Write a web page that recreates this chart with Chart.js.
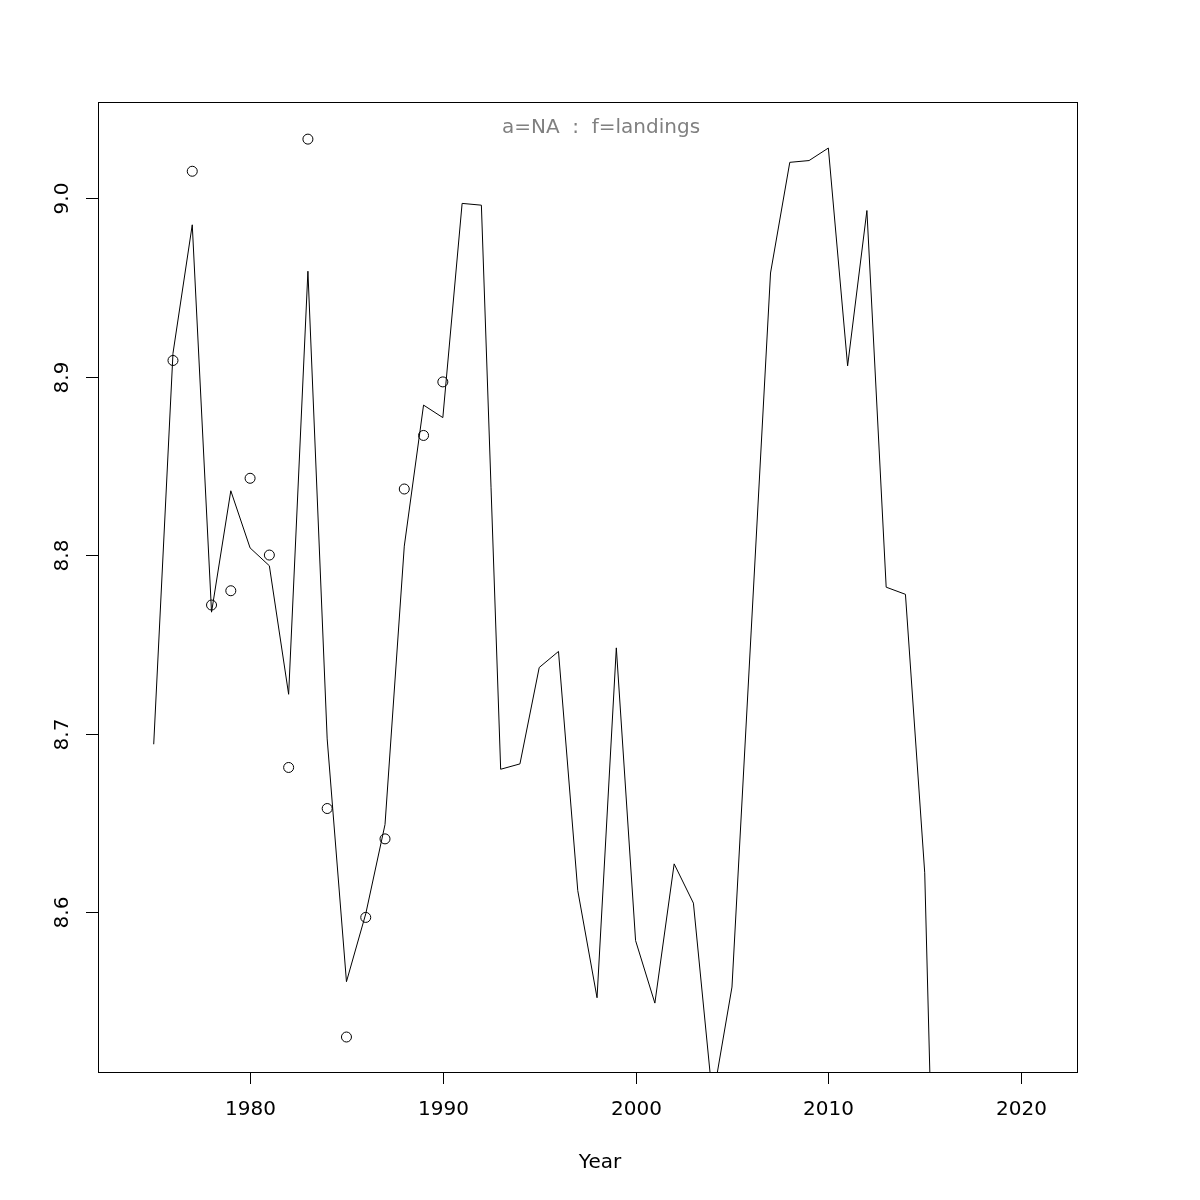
<!DOCTYPE html>
<html>
<head>
<meta charset="utf-8">
<script src="https://cdn.jsdelivr.net/npm/chart.js@4/dist/chart.umd.min.js"></script>
<style>
  body { margin: 0; background: #fff; }
  #wrap { width: 1200px; height: 1200px; position: relative; }
</style>
</head>
<body>
<div id="wrap"><canvas id="plot"></canvas></div>
<script>
// fitted series (line), one value per year
const lineYears = [1975, 1976, 1977, 1978, 1979, 1980, 1981, 1982, 1983, 1984, 1985, 1986, 1987, 1988, 1989, 1990,
    1991, 1992, 1993, 1994, 1995, 1996, 1997, 1998, 1999, 2000, 2001, 2002, 2003, 2004, 2005, 2006, 2007, 2008,
    2009, 2010, 2011, 2012, 2013, 2014, 2015, 2016];
const lineValues = [8.694, 8.913, 8.985, 8.768, 8.836, 8.804, 8.794, 8.722, 8.959, 8.697, 8.561, 8.599, 8.649, 8.805, 8.884, 8.877,
    8.997, 8.996, 8.680, 8.683, 8.737, 8.746, 8.612, 8.552, 8.748, 8.584, 8.549, 8.627, 8.605, 8.495, 8.558, 8.758, 8.958, 9.020,
    9.021, 9.028, 8.906, 8.993, 8.782, 8.778, 8.622, 8.200];

// observed values (circles)
const obsYears = [1976, 1977, 1978, 1979, 1980, 1981, 1982, 1983, 1984, 1985, 1986, 1987, 1988, 1989, 1990];
const obsValues = [8.909, 9.015, 8.772, 8.780, 8.843, 8.800, 8.681, 9.033, 8.658, 8.530, 8.597, 8.641, 8.837, 8.867, 8.897];

const xTicks = [1980, 1990, 2000, 2010, 2020];
const yTicks = [8.6, 8.7, 8.8, 8.9, 9.0];
const yTickLabels = ['8.6', '8.7', '8.8', '8.9', '9.0'];

const xRange = [1972.11, 2022.9];
const yRange = [8.5104, 9.0538];

const FONT = '20px "DejaVu Sans", sans-serif';

// draws the R-style box, axes, tick labels and the title
const rAxes = {
    id: 'rAxes',
    afterDraw(chart) {
        const ctx = chart.ctx;
        const a = chart.chartArea;
        const xs = chart.scales.x, ys = chart.scales.y;
        ctx.save();
        ctx.strokeStyle = '#000';
        ctx.lineWidth = 1;
        ctx.strokeRect(Math.round(a.left) + 0.5, Math.round(a.top) + 0.5,
            Math.round(a.right - a.left), Math.round(a.bottom - a.top));

        ctx.fillStyle = '#000';
        ctx.font = FONT;
        ctx.textAlign = 'center';
        ctx.textBaseline = 'middle';
        ctx.beginPath();
        xTicks.forEach(t => {
            const px = Math.round(xs.getPixelForValue(t)) + 0.5;
            ctx.moveTo(px, a.bottom);
            ctx.lineTo(px, a.bottom + 12);
            ctx.fillText(String(t), px, 1110);
        });
        yTicks.forEach((t, i) => {
            const py = Math.round(ys.getPixelForValue(t)) + 0.5;
            ctx.moveTo(a.left, py);
            ctx.lineTo(a.left - 12, py);
            ctx.save();
            ctx.translate(63, py);
            ctx.rotate(-Math.PI / 2);
            ctx.fillText(yTickLabels[i], 0, 0);
            ctx.restore();
        });
        ctx.stroke();

        ctx.fillText('Year', 600, 1163);

        ctx.fillStyle = '#808080';
        ctx.fillText('a=NA  :  f=landings', 601, 128);
        ctx.restore();
    }
};

new Chart(document.getElementById('plot'), {
    type: 'line',
    data: {
        datasets: [{
            data: lineYears.map((yr, i) => ({ x: yr, y: lineValues[i] })),
            borderColor: '#000',
            borderWidth: 1,
            pointRadius: 0,
            tension: 0,
            fill: false
        }, {
            data: obsYears.map((yr, i) => ({ x: yr, y: obsValues[i] })),
            showLine: false,
            pointRadius: 5,
            pointStyle: 'circle',
            pointBorderColor: '#000',
            pointBorderWidth: 1,
            pointBackgroundColor: 'rgba(0,0,0,0)'
        }]
    },
    options: {
        responsive: true,
        maintainAspectRatio: false,
        animation: false,
        layout: {
            padding: { left: 98, top: 102, right: 123, bottom: 128 }
        },
        plugins: {
            legend: { display: false },
            tooltip: { enabled: false }
        },
        scales: {
            x: { type: 'linear', min: xRange[0], max: xRange[1], display: false },
            y: { type: 'linear', min: yRange[0], max: yRange[1], display: false }
        }
    },
    plugins: [rAxes]
});
</script>
</body>
</html>
